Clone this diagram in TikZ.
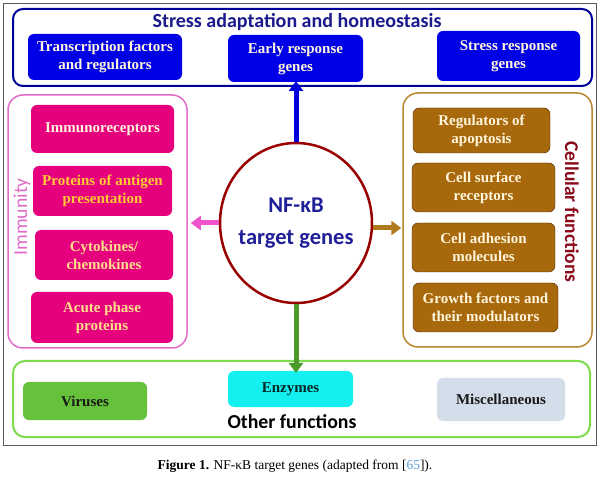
\documentclass[tikz,border=0pt]{standalone}
\usepackage{fontspec}
\setmainfont{Liberation Serif}
\newfontfamily\calfont{Carlito}
\usetikzlibrary{shapes.geometric,arrows.meta}
\definecolor{topblue}{HTML}{000099}
\definecolor{boxblue}{HTML}{0000E6}
\definecolor{titleblue}{HTML}{1A1A8C}
\definecolor{immpink}{HTML}{E06CC8}
\definecolor{boxpink}{HTML}{E6007E}
\definecolor{cellbrown}{HTML}{B8862E}
\definecolor{boxbrown}{HTML}{A8680C}
\definecolor{celllabel}{HTML}{8B0A1A}
\definecolor{botgreen}{HTML}{7EDB4C}
\definecolor{virgreen}{HTML}{66C23A}
\definecolor{enzcyan}{HTML}{14F0F0}
\definecolor{misc}{HTML}{D4DEEA}
\definecolor{ellred}{HTML}{990000}
\definecolor{nftext}{HTML}{1F1F99}
\definecolor{cream}{HTML}{FFF6DC}
\definecolor{yel}{HTML}{FFCC33}
\definecolor{lyel}{HTML}{FFE08A}
\definecolor{arrpink}{HTML}{EE55CC}
\definecolor{arrbrown}{HTML}{B07A1C}
\definecolor{arrgreen}{HTML}{4C9A2A}
\definecolor{arrblue}{HTML}{0000DD}
\definecolor{linkblue}{HTML}{5B9BD5}
\tikzset{
  frame/.style={draw, rounded corners=#1, fill=white},
  inbox/.style={rounded corners=6pt, align=center, font=\bfseries\fontsize{15}{18}\selectfont, inner sep=0pt},
  blk/.style={line width=5pt, -{Triangle[length=10pt,width=14pt]}},
}
\begin{document}
\begin{tikzpicture}[x=1pt,y=-1pt]
\useasboundingbox (0,0) rectangle (600,478);
\fill[white] (0,0) rectangle (600,478);
\node[draw=black!65, line width=1pt, minimum width=593pt, minimum height=441pt, inner sep=0pt] (outer) at (299.5,224.5) {};
% containers
\node[frame=10pt, draw=topblue, line width=2pt, minimum width=579pt, minimum height=77pt] (top) at (302.5,47.5) {};
\node[frame=15pt, draw=immpink, line width=1.5pt, minimum width=179pt, minimum height=253pt] (imm) at (97.5,221.5) {};
\node[frame=15pt, draw=cellbrown, line width=1.5pt, minimum width=189pt, minimum height=254pt] (cell) at (497.5,220) {};
\node[frame=12pt, draw=botgreen, line width=2pt, minimum width=577pt, minimum height=76pt] (bot) at (301.5,399) {};
% titles
\node[font=\calfont\bfseries\fontsize{20}{22}\selectfont, text=titleblue] (ttl) at (297,22) {Stress adaptation and homeostasis};
\node[font=\calfont\fontsize{19.7}{22}\selectfont, text=immpink, rotate=90] (immlab) at (22,217) {Immunity};
\node[font=\calfont\bfseries\fontsize{19.5}{22}\selectfont, text=celllabel, rotate=-90] (celllab) at (572,212) {Cellular functions};
\node[font=\calfont\bfseries\fontsize{19.8}{22}\selectfont, text=black] (oth) at (292,422) {Other functions};
% top boxes
\node[inbox, fill=boxblue, text=cream, minimum width=154pt, minimum height=46pt] (tf) at (105,57) {Transcription factors\\and regulators};
\node[inbox, fill=boxblue, text=cream, minimum width=135pt, minimum height=47pt] (early) at (295.5,58.5) {Early response\\genes};
\node[inbox, fill=boxblue, text=cream, minimum width=143pt, minimum height=50pt] (stress) at (508.5,56) {Stress response\\genes};
% immunity boxes
\node[inbox, fill=boxpink, text=cream, minimum width=143pt, minimum height=48pt] (ir) at (102.5,129) {Immunoreceptors};
\node[inbox, fill=boxpink, text=yel, minimum width=139pt, minimum height=50pt] (pa) at (102.5,191) {Proteins of antigen\\presentation};
\node[inbox, fill=boxpink, text=lyel, minimum width=138pt, minimum height=50pt] (cy) at (104,255) {Cytokines/\\chemokines};
\node[inbox, fill=boxpink, text=lyel, minimum width=142pt, minimum height=51pt] (ap) at (102,317.5) {Acute phase\\proteins};
% cellular boxes
\node[inbox, fill=boxbrown, draw=black!60!boxbrown, text=cream, minimum width=137pt, minimum height=45pt] (ra) at (481.5,130.5) {Regulators of\\apoptosis};
\node[inbox, fill=boxbrown, draw=black!60!boxbrown, text=cream, minimum width=143pt, minimum height=49pt] (cs) at (483.5,187.5) {Cell surface\\receptors};
\node[inbox, fill=boxbrown, draw=black!60!boxbrown, text=cream, minimum width=143pt, minimum height=49pt] (ca) at (483.5,247.5) {Cell adhesion\\molecules};
\node[inbox, fill=boxbrown, draw=black!60!boxbrown, text=cream, minimum width=145pt, minimum height=49pt] (gf) at (485.5,307.5) {Growth factors and\\their modulators};
% other boxes
\node[inbox, fill=virgreen, text=black!90, minimum width=124pt, minimum height=38pt] (vir) at (85,401) {Viruses};
\node[inbox, fill=enzcyan, text=black!70!teal, minimum width=125pt, minimum height=36pt] (enz) at (290.5,389) {Enzymes};
\node[inbox, fill=misc, text=black!90, minimum width=128pt, minimum height=43pt] (mis) at (501,399.5) {Miscellaneous};
% central
\node[ellipse, draw=ellred, line width=2.5pt, fill=white, minimum width=152pt, minimum height=160pt, inner sep=0pt] (nf) at (296,223) {};
\node[align=center, text=nftext, font=\calfont\bfseries\fontsize{22.5}{32}\selectfont, inner sep=0pt] (nftxt) at (nf.center) {NF-κB\\target genes};
% arrows
\draw[blk, draw=arrblue, fill=arrblue] (nf.north) -- ([yshift=6pt]nf.north |- top.south);
\draw[blk, draw=arrpink, fill=arrpink] (nf.west) -- ([xshift=3pt]imm.east |- nf.west);
\draw[blk, draw=arrbrown, fill=arrbrown] ([yshift=-5pt]nf.east) -- ([yshift=-5pt,xshift=-1pt]cell.west |- nf.east);
\draw[blk, draw=arrgreen, fill=arrgreen] (nf.south) -- ([yshift=-13pt]nf.south |- bot.north);
% caption
\node[font=\fontsize{13.5}{15}\selectfont] (cap) at (295,466) {\textbf{Figure 1.} NF-κB target genes (adapted from [\textcolor{linkblue}{65}]).};
\end{tikzpicture}
\end{document}
